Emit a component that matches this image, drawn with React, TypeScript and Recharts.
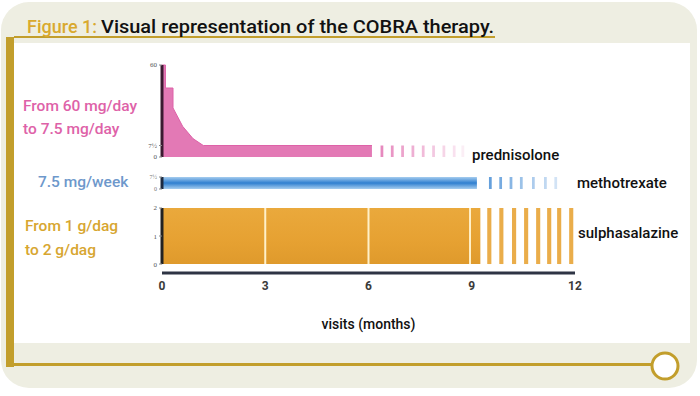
import { Area, ComposedChart, ReferenceArea, ReferenceLine, XAxis, YAxis } from 'recharts'

// prednisolone dose (mg/day) by month
const predMonths = [0, 0.1, 0.1, 0.32, 0.32, 0.6, 0.9, 1.2, 6.1]
const predDose = [60, 60, 45, 45, 32, 20, 12, 7.5, 7.5]
const predPulses = [6.35, 6.65, 6.95, 7.25, 7.55, 7.85, 8.15, 8.45, 8.7]

// methotrexate mg/week
const mtxMonths = [0, 9.15]
const mtxDose = [7.5, 7.5]
const mtxPulses = [9.5, 9.8, 10.1, 10.4, 10.75, 11.1, 11.4]

// sulphasalazine g/day
const sulMonths = [0, 9.25]
const sulDose = [2, 2]
const sulSplits = [3, 6, 8.95]
const sulPulses = [9.45, 9.8, 10.17, 10.52, 10.87, 11.19, 11.48, 11.83]

const monthTicks = [0, 3, 6, 9, 12]

const PINK = '#DE62A8'
const BLUE = '#4A8FD6'
const ORANGE = '#E8A436'
const GOLD = '#C29E2C'
const BEIGE = '#EEEEE2'

const predData = predMonths.map((m, i) => ({ m, dose: predDose[i] }))
const mtxData = mtxMonths.map((m, i) => ({ m, dose: mtxDose[i] }))
const sulData = sulMonths.map((m, i) => ({ m, dose: sulDose[i] }))

const X0 = 162
const X12 = 575
const W = 700
const H = 396
const YW = 22

const layer: React.CSSProperties = { position: 'absolute', left: 0, top: 0 }

function margins(top: number, bottom: number) {
  return { top, bottom: H - bottom, left: X0 - YW, right: W - X12 }
}

function Frame() {
  return (
    <svg width={W} height={H} style={layer}>
      <rect x={1} y={2} width={696} height={386} rx={28} fill={BEIGE} />
      <rect x={14} y={43} width={676} height={300} fill="#fff" />
      <rect x={6} y={37} width={8} height={330} fill={GOLD} />
      <rect x={6} y={363} width={646} height={3} fill={GOLD} />
      <circle cx={665} cy={366} r={13} fill="#fff" stroke={GOLD} strokeWidth={3} />
      <rect x={14} y={36} width={481} height={2} fill={GOLD} />
      <text
        x={27}
        y={33}
        fontFamily="Roboto, sans-serif"
        fontSize={19}
        fontWeight={500}
        fill="#D9A92E"
        textLength={70}
        lengthAdjust="spacingAndGlyphs"
      >
        Figure 1:
      </text>
      <text
        x={101}
        y={33}
        fontFamily="Roboto, sans-serif"
        fontSize={19}
        fontWeight={500}
        fill="#111"
        textLength={393}
        lengthAdjust="spacingAndGlyphs"
      >
        Visual representation of the COBRA therapy.
      </text>
    </svg>
  )
}

function Labels() {
  const left = { fontFamily: 'Roboto, sans-serif', fontSize: 15.5, fontWeight: 500 }
  const right = { fontFamily: 'Roboto, sans-serif', fontSize: 15, fontWeight: 500, fill: '#111' }
  return (
    <svg width={W} height={H} style={layer}>
      <text x={23} y={111} fill={PINK} {...left}>From 60 mg/day</text>
      <text x={23} y={134} fill={PINK} {...left}>to 7.5 mg/day</text>
      <text x={38} y={187} fill="#6E98CB" {...left}>7.5 mg/week</text>
      <text x={25} y={231} fill="#D7A630" {...left}>From 1 g/dag</text>
      <text x={25} y={255} fill="#D7A630" {...left}>to 2 g/dag</text>
      <text x={472} y={160} {...right}>prednisolone</text>
      <text x={577} y={188} {...right}>methotrexate</text>
      <text x={578} y={238} {...right}>sulphasalazine</text>
    </svg>
  )
}

const smallTick = { fontSize: 7, fill: '#555' }

export default function App() {
  return (
    <div style={{ position: 'fixed', left: 0, top: 0, width: W, height: H, background: '#fff' }}>
      <Frame />

      {/* prednisolone */}
      <div style={layer}>
        <ComposedChart width={W} height={H} data={predData} margin={margins(65, 157)}>
          <XAxis type="number" dataKey="m" domain={[0, 12]} hide allowDataOverflow />
          <YAxis
            width={YW}
            domain={[0, 60]}
            ticks={[0, 7.5, 60]}
            interval={0}
            tickFormatter={(v) => (v === 7.5 ? '7½' : String(v))}
            tick={smallTick}
            tickSize={3}
            axisLine={false}
            stroke="#888"
          />
          <Area
            type="linear"
            dataKey="dose"
            stroke={PINK}
            strokeWidth={1}
            fill={PINK}
            fillOpacity={0.85}
            isAnimationActive={false}
          />
          {predPulses.map((m, i) => (
            <ReferenceArea
              key={m}
              x1={m}
              x2={m + 0.08}
              y1={0}
              y2={7.5}
              fill={PINK}
              fillOpacity={0.75 - i * 0.08}
              stroke="none"
            />
          ))}
          <ReferenceLine
            segment={[
              { x: 0, y: 0 },
              { x: 0, y: 60 },
            ]}
            stroke="#3A1A30"
            strokeWidth={3}
          />
        </ComposedChart>
      </div>

      {/* methotrexate */}
      <div style={layer}>
        <ComposedChart width={W} height={H} data={mtxData} margin={margins(177, 189)}>
          <defs>
            <linearGradient id="mtxFill" x1="0" y1="0" x2="0" y2="1">
              <stop offset="0" stopColor="#A6CDEF" />
              <stop offset="0.5" stopColor="#2F7FD0" />
              <stop offset="1" stopColor="#A6CDEF" />
            </linearGradient>
          </defs>
          <XAxis type="number" dataKey="m" domain={[0, 12]} hide allowDataOverflow />
          <YAxis
            width={YW}
            domain={[0, 7.5]}
            ticks={[0, 7.5]}
            interval={0}
            tickFormatter={(v) => (v === 7.5 ? '7½' : String(v))}
            tick={{ fontSize: 6, fill: '#777' }}
            tickSize={3}
            axisLine={false}
            stroke="#888"
          />
          <Area
            type="linear"
            dataKey="dose"
            stroke="none"
            fill="url(#mtxFill)"
            fillOpacity={1}
            isAnimationActive={false}
          />
          {mtxPulses.map((m, i) => (
            <ReferenceArea
              key={m}
              x1={m}
              x2={m + 0.08}
              y1={0}
              y2={7.5}
              fill={BLUE}
              fillOpacity={0.85 - i * 0.1}
              stroke="none"
            />
          ))}
          <ReferenceLine
            segment={[
              { x: 0, y: 0 },
              { x: 0, y: 7.5 },
            ]}
            stroke="#1D2A40"
            strokeWidth={3}
          />
        </ComposedChart>
      </div>

      {/* sulphasalazine + month axis */}
      <div style={layer}>
        <ComposedChart
          width={W}
          height={H}
          data={sulData}
          margin={{ top: 208, bottom: 63, left: X0 - YW, right: W - X12 }}
        >
          <defs>
            <linearGradient id="sulFill" x1="0" y1="0" x2="0" y2="1">
              <stop offset="0" stopColor="#EAA93C" />
              <stop offset="0.6" stopColor="#E6A132" />
              <stop offset="1" stopColor="#DF9A2C" />
            </linearGradient>
          </defs>
          <XAxis
            type="number"
            dataKey="m"
            domain={[0, 12]}
            ticks={monthTicks}
            allowDataOverflow
            height={60}
            axisLine={{ stroke: '#2E3444', strokeWidth: 3 }}
            tickLine={false}
            tick={{ fontSize: 12, fontWeight: 700, fill: '#3A3A3A', fontFamily: 'Roboto, sans-serif' }}
            label={{
              value: 'visits (months)',
              position: 'insideBottom',
              offset: 4,
              fontSize: 14,
              fontWeight: 500,
              fill: '#111',
              fontFamily: 'Roboto, sans-serif',
            }}
          />
          <YAxis
            width={YW}
            domain={[-0.32, 2]}
            ticks={[0, 1, 2]}
            interval={0}
            tick={smallTick}
            tickSize={3}
            axisLine={false}
            stroke="#888"
          />
          <Area
            type="linear"
            dataKey="dose"
            baseValue={0}
            stroke="none"
            fill="url(#sulFill)"
            fillOpacity={1}
            isAnimationActive={false}
          />
          {sulSplits.map((m) => (
            <ReferenceLine
              key={m}
              segment={[
                { x: m, y: 0 },
                { x: m, y: 2 },
              ]}
              stroke="#FFF0C8"
              strokeWidth={2}
            />
          ))}
          {sulPulses.map((m) => (
            <ReferenceArea
              key={m}
              x1={m}
              x2={m + 0.12}
              y1={0}
              y2={2}
              fill={ORANGE}
              fillOpacity={0.9}
              stroke="none"
            />
          ))}
          <ReferenceLine
            segment={[
              { x: 0, y: 0 },
              { x: 0, y: 2 },
            ]}
            stroke="#222"
            strokeWidth={3}
          />
        </ComposedChart>
      </div>

      <Labels />
    </div>
  )
}
